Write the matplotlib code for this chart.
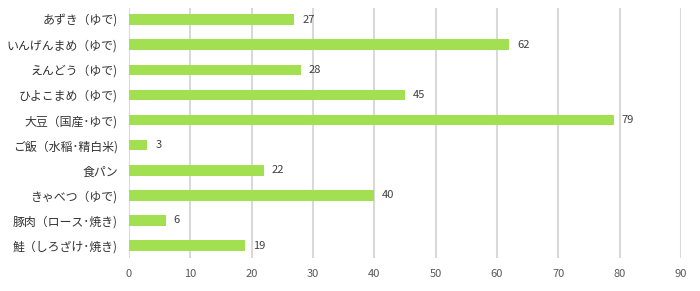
import matplotlib
matplotlib.use("Agg")
import matplotlib.pyplot as plt

categories = ["あずき（ゆで)", "いんげんまめ（ゆで)", "えんどう（ゆで)", "ひよこまめ（ゆで)",
              "大豆（国産･ゆで)", "ご飯（水稲･精白米)", "食パン", "きゃべつ（ゆで)",
              "豚肉（ロース･焼き)", "鮭（しろざけ･焼き)"]
values = [27, 62, 28, 45, 79, 3, 22, 40, 6, 19]
xticks = [0, 10, 20, 30, 40, 50, 60, 70, 80, 90]

plt.rcParams['font.family'] = ['Noto Sans CJK JP', 'DejaVu Sans']

fig = plt.figure(figsize=(7.0, 2.91), dpi=100)
ax = fig.add_axes([0.184, 0.113, 0.789, 0.86])

y = list(range(len(categories)))
ax.barh(y, values, height=0.42, color="#a2e052", zorder=3)
for yi, v in zip(y, values):
    ax.text(v + 1.3, yi, str(v), va="center", ha="left", fontsize=8, color="#404040")

ax.set_xlim(0, 90)
ax.set_ylim(9.5, -0.47)
ax.set_xticks(xticks)
ax.set_yticks(y)
ax.set_yticklabels(categories, fontsize=8.6, color="#333333")
ax.tick_params(axis="x", labelsize=8, colors="#595959", length=0, pad=8)
ax.tick_params(axis="y", length=0, pad=8)
ax.grid(axis="x", color="#d9d9d9", linewidth=1.5, zorder=0)
for s in ax.spines.values():
    s.set_visible(False)

fig.savefig("out.png", dpi=100)
